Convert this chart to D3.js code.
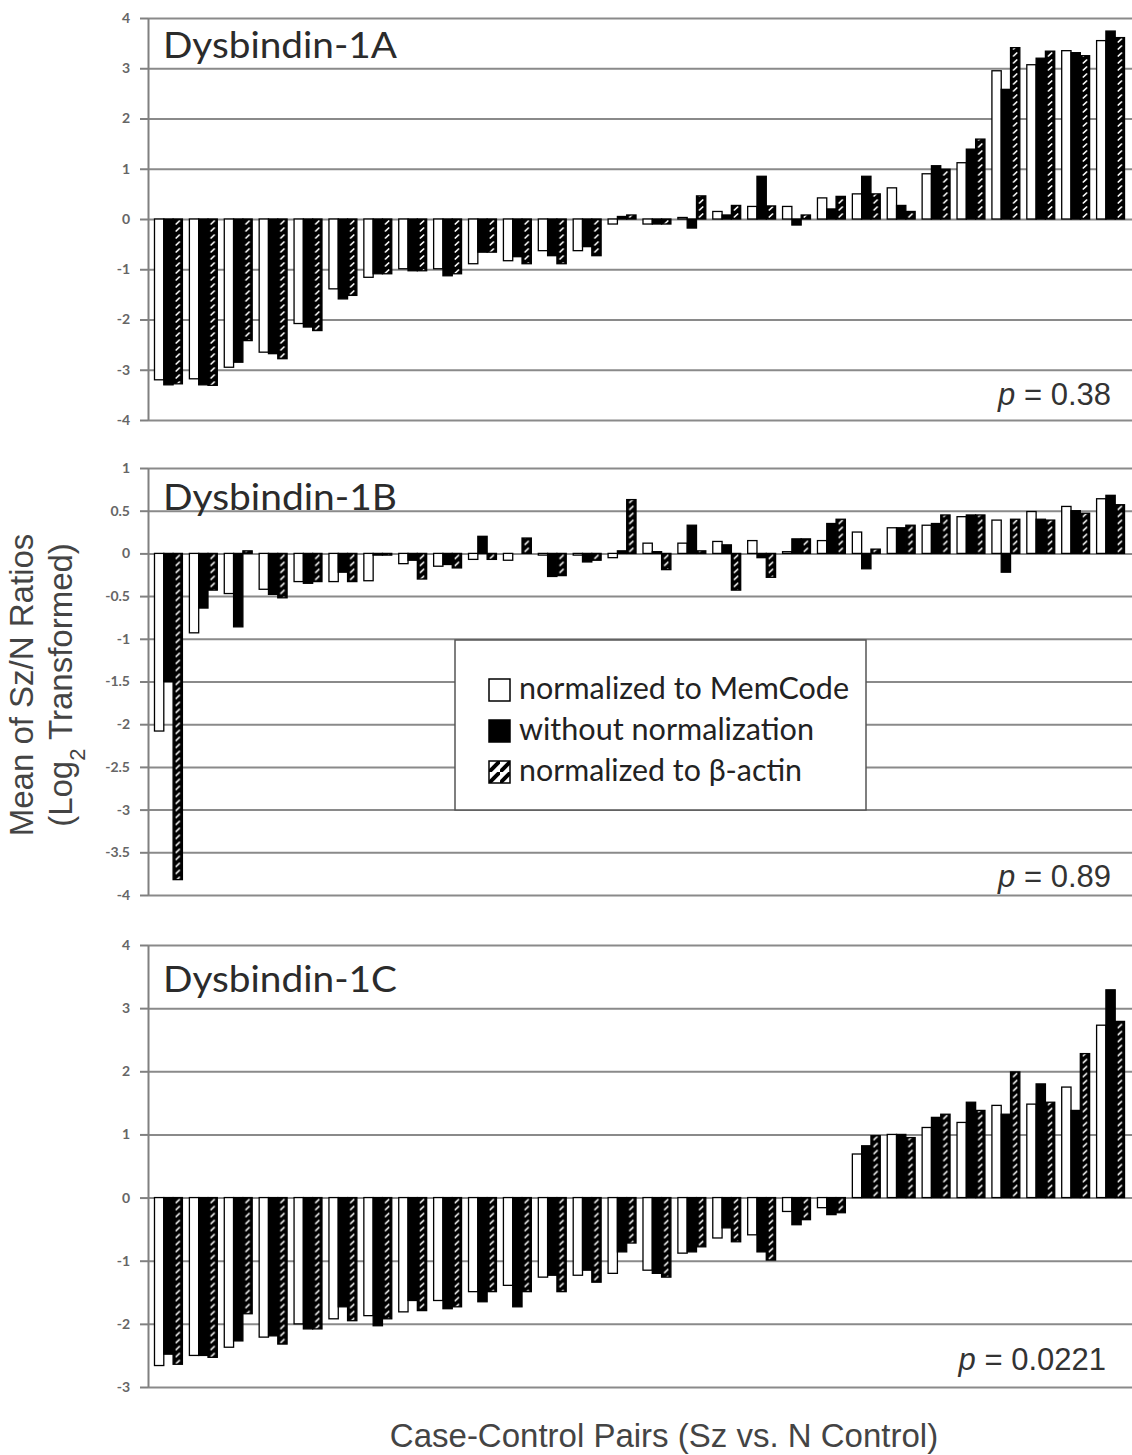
<!DOCTYPE html>
<html lang="en">
<head>
<meta charset="utf-8">
<title>Dysbindin-1 Sz/N ratios</title>
<script src="https://cdn.jsdelivr.net/npm/d3@7"></script>
<style>
  body { margin: 0; background: #fff; }
  svg text { font-family: Arial, "Liberation Sans", sans-serif; fill: #333; }
  .yticks text { font-family: Lato, sans-serif; font-size: 14px; font-weight: bold; fill: #666; }
  .yticks line, .yticks path { stroke: #808080; stroke-width: 2; }
  .grid line { stroke: #8a8a8a; stroke-width: 2; }
  .grid path { display: none; }
  .panel-title { font-family: Lato, sans-serif !important; font-size: 36px; fill: #2b2b2b; }
  .pval { font-size: 31px; text-anchor: end; }
  .legend text { font-family: Lato, sans-serif !important; font-size: 30px; fill: #222; }
  .bar { stroke: #000; stroke-width: 1.3; }
</style>
</head>
<body>
<svg width="1132" height="1455"></svg>
<script>
// case-control pairs, sorted per panel as in the figure
var pairs = d3.range(1, 29);

var seriesNames = ["normalized to MemCode", "without normalization", "normalized to \u03b2-actin"];

// Dysbindin-1A
var memA   = [-3.2, -3.18, -2.95, -2.65, -2.08, -1.39, -1.16, -0.99, -0.99, -0.89, -0.83, -0.63, -0.63, -0.1, -0.1, 0.03, 0.15, 0.25, 0.25, 0.42, 0.5, 0.62, 0.9, 1.12, 2.95, 3.07, 3.35, 3.55];
var rawA   = [-3.3, -3.3, -2.85, -2.68, -2.15, -1.59, -1.09, -1.03, -1.13, -0.66, -0.75, -0.73, -0.55, 0.05, -0.1, -0.18, 0.08, 0.85, -0.12, 0.2, 0.85, 0.27, 1.06, 1.39, 2.58, 3.2, 3.31, 3.74];
var actinA = [-3.28, -3.31, -2.42, -2.78, -2.22, -1.52, -1.09, -1.03, -1.09, -0.66, -0.89, -0.89, -0.73, 0.08, -0.1, 0.46, 0.27, 0.26, 0.08, 0.45, 0.5, 0.15, 0.99, 1.59, 3.41, 3.34, 3.25, 3.61];
var ticksA = [4, 3, 2, 1, 0, -1, -2, -3, -4];

// Dysbindin-1B
var memB   = [-2.08, -0.93, -0.47, -0.42, -0.33, -0.33, -0.32, -0.12, -0.15, -0.07, -0.08, -0.02, -0.02, -0.05, 0.12, 0.12, 0.14, 0.15, 0.02, 0.15, 0.25, 0.3, 0.33, 0.43, 0.39, 0.49, 0.55, 0.64];
var rawB   = [-1.5, -0.64, -0.86, -0.48, -0.35, -0.22, -0.02, -0.08, -0.13, 0.2, 0.0, -0.27, -0.1, 0.03, 0.02, 0.33, 0.1, -0.05, 0.17, 0.35, -0.18, 0.3, 0.35, 0.45, -0.22, 0.4, 0.5, 0.68];
var actinB = [-3.82, -0.43, 0.03, -0.52, -0.33, -0.33, -0.02, -0.3, -0.17, -0.07, 0.18, -0.26, -0.08, 0.63, -0.19, 0.03, -0.43, -0.28, 0.17, 0.4, 0.05, 0.33, 0.45, 0.45, 0.4, 0.39, 0.47, 0.57];
var ticksB = [1, 0.5, 0, -0.5, -1, -1.5, -2, -2.5, -3, -3.5, -4];

// Dysbindin-1C
var memC   = [-2.66, -2.5, -2.37, -2.21, -2.0, -1.92, -1.87, -1.81, -1.63, -1.49, -1.39, -1.26, -1.23, -1.2, -1.15, -0.88, -0.64, -0.59, -0.22, -0.16, 0.69, 1.0, 1.11, 1.19, 1.46, 1.48, 1.75, 2.73];
var rawC   = [-2.48, -2.5, -2.27, -2.19, -2.08, -1.73, -2.03, -1.63, -1.76, -1.65, -1.73, -1.23, -1.15, -0.86, -1.2, -0.86, -0.48, -0.86, -0.43, -0.27, 0.82, 1.0, 1.27, 1.51, 1.32, 1.8, 1.38, 3.29];
var actinC = [-2.64, -2.53, -1.84, -2.32, -2.08, -1.95, -1.92, -1.79, -1.73, -1.49, -1.49, -1.49, -1.34, -0.72, -1.26, -0.78, -0.7, -0.99, -0.35, -0.24, 0.98, 0.95, 1.32, 1.38, 1.99, 1.51, 2.28, 2.79];
var ticksC = [4, 3, 2, 1, 0, -1, -2, -3];

var pValues = ["0.38", "0.89", "0.0221"];

var svg = d3.select("svg");
var left = 148, right = 1140;
var defs = svg.append("defs");

// legend swatch for the beta-actin series
var patL = defs.append("pattern").attr("id", "hatchLegend")
   .attr("patternUnits", "userSpaceOnUse").attr("width", 11).attr("height", 11);
patL.append("rect").attr("width", 11).attr("height", 11).attr("fill", "#fff");
patL.append("path").attr("d", "M-3,14 L14,-3").attr("stroke", "#000").attr("stroke-width", 4);

var fills = ["#fff", "#000", "url(#hatchLegend)"];

var x = d3.scaleBand().domain(pairs).range([151, 1128]).paddingInner(0.2).paddingOuter(0.1);
var sub = d3.scaleBand().domain([0, 1, 2]).range([0, x.bandwidth()]);
var bw = sub.bandwidth();

var panels = [
  { id: "A", title: "Dysbindin-1A", series: [memA, rawA, actinA], ticks: ticksA, y: d3.scaleLinear().domain([-4, 4]).range([420, 18]), p: pValues[0], tdy: 40, pdy: 15, px: 1111 },
  { id: "B", title: "Dysbindin-1B", series: [memB, rawB, actinB], ticks: ticksB, y: d3.scaleLinear().domain([-4, 1]).range([895, 468]), p: pValues[1], tdy: 42, pdy: 8, px: 1111 },
  { id: "C", title: "Dysbindin-1C", series: [memC, rawC, actinC], ticks: ticksC, y: d3.scaleLinear().domain([-3, 4]).range([1387, 945]), p: pValues[2], tdy: 47, pdy: 17, px: 1106 }
];

// one small hatch tile per bar, so the white marks sit in the middle of each bar
function hatchFor(pn, i) {
  var id = "h" + pn.id + i;
  var bx = x(pairs[i]) + sub(2);
  var p = defs.append("pattern").attr("id", id)
     .attr("patternUnits", "userSpaceOnUse")
     .attr("x", bx).attr("y", pn.y(0)).attr("width", bw).attr("height", 7);
  p.append("rect").attr("width", bw).attr("height", 7).attr("fill", "#000");
  p.append("path").attr("d", "M" + (bw * 0.33) + ",5 L" + (bw * 0.67) + ",2")
     .attr("stroke", "#fff").attr("stroke-width", 1.7).attr("stroke-linecap", "round");
  return "url(#" + id + ")";
}

panels.forEach(function(pn) {
  var y = pn.y;
  var g = svg.append("g");

  g.append("g").attr("class", "grid")
     .attr("transform", "translate(" + left + ",0)")
     .call(d3.axisLeft(y).tickValues(pn.ticks).tickSize(-(right - left)).tickFormat(""));

  g.append("g").attr("class", "yticks")
     .attr("transform", "translate(" + left + ",0)")
     .call(d3.axisLeft(y).tickValues(pn.ticks).tickSize(8).tickSizeOuter(0).tickPadding(10)
        .tickFormat(function(d) { return String(d); }));

  pn.series.forEach(function(vals, k) {
    g.append("g").selectAll("rect")
       .data(vals)
       .enter().append("rect")
       .attr("class", "bar")
       .attr("x", function(d, i) { return x(pairs[i]) + sub(k); })
       .attr("width", bw)
       .attr("y", function(d) { return Math.min(y(d), y(0)); })
       .attr("height", function(d) { return Math.abs(y(d) - y(0)); })
       .attr("fill", function(d, i) { return k === 2 ? hatchFor(pn, i) : fills[k]; });
  });

  g.append("text").attr("class", "panel-title")
     .attr("x", 163).attr("y", y.range()[1] + pn.tdy)
     .attr("textLength", 234).attr("lengthAdjust", "spacingAndGlyphs")
     .text(pn.title);

  var pt = g.append("text").attr("class", "pval")
     .attr("x", pn.px).attr("y", y.range()[0] - pn.pdy);
  pt.append("tspan").style("font-style", "italic").text("p");
  pt.append("tspan").text(" = " + pn.p);
});

// legend inside panel B
var legendWidths = [330, 295, 283];
var lg = svg.append("g").attr("class", "legend").attr("transform", "translate(455,640)");
lg.append("rect").attr("width", 411).attr("height", 170)
   .attr("fill", "#fff").attr("stroke", "#555").attr("stroke-width", 1.5);
seriesNames.forEach(function(name, k) {
  var row = lg.append("g").attr("transform", "translate(34," + (39 + k * 41) + ")");
  row.append("rect").attr("width", 21).attr("height", 22)
     .attr("fill", fills[k])
     .attr("stroke", "#000").attr("stroke-width", 1.5);
  row.append("text").attr("x", 30).attr("y", 20)
     .attr("textLength", legendWidths[k]).attr("lengthAdjust", "spacingAndGlyphs")
     .text(name);
});

// axis titles
svg.append("text")
   .attr("transform", "translate(33,685) rotate(-90)")
   .attr("text-anchor", "middle").style("font-size", "33px").style("fill", "#444")
   .text("Mean of Sz/N Ratios");
var yl2 = svg.append("text")
   .attr("transform", "translate(72,685) rotate(-90)")
   .attr("text-anchor", "middle").style("font-size", "33px").style("fill", "#444");
yl2.append("tspan").text("(Log");
yl2.append("tspan").attr("baseline-shift", "sub").style("font-size", "22px").text("2");
yl2.append("tspan").text(" Transformed)");

svg.append("text")
   .attr("x", 664).attr("y", 1447)
   .attr("text-anchor", "middle").style("font-size", "33px").style("fill", "#444")
   .text("Case-Control Pairs (Sz vs. N Control)");
</script>
</body>
</html>
